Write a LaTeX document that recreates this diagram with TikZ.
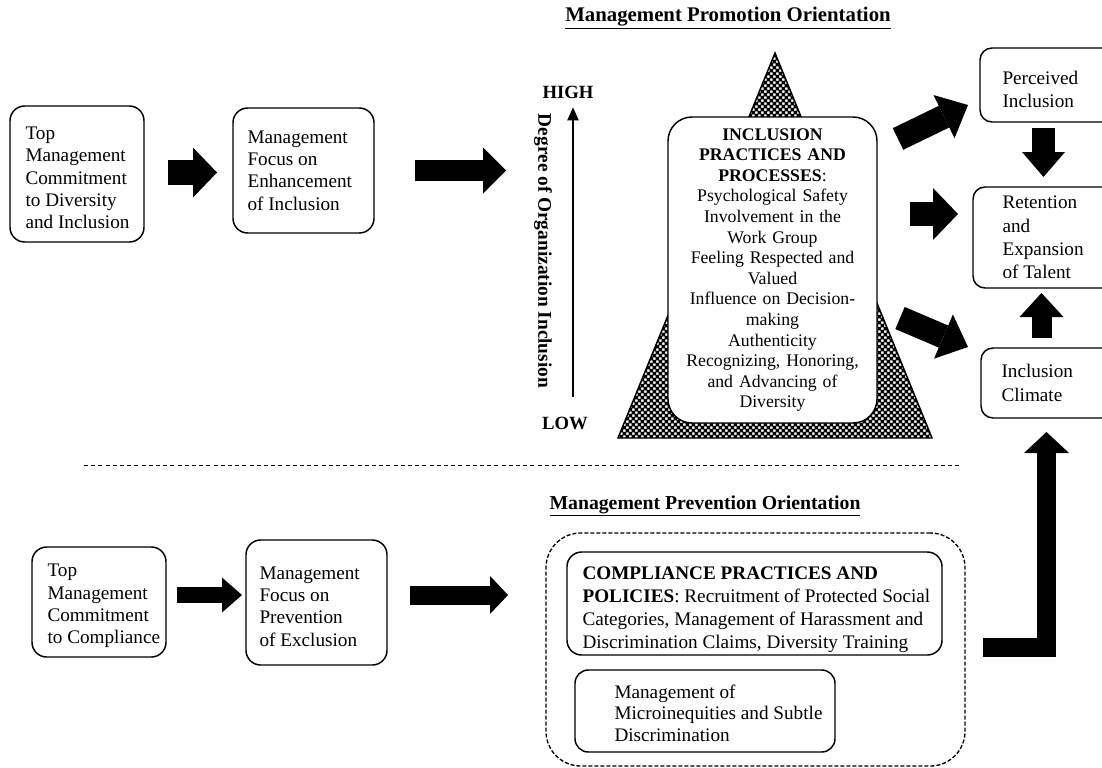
\documentclass[tikz,border=0pt]{standalone}
\usepackage{fontspec}
\setmainfont{Liberation Serif}
\usetikzlibrary{arrows.meta,patterns}
\pgfdeclarepatternformonly{tridots}{\pgfqpoint{0pt}{0pt}}{\pgfqpoint{4.8pt}{4.8pt}}{\pgfqpoint{4.8pt}{4.8pt}}{%
  \pgfseteorule
  \pgfpathrectangle{\pgfqpoint{0pt}{0pt}}{\pgfqpoint{4.8pt}{4.8pt}}%
  \pgfpathrectangle{\pgfqpoint{0.2pt}{0.2pt}}{\pgfqpoint{2pt}{2pt}}%
  \pgfpathrectangle{\pgfqpoint{2.6pt}{2.6pt}}{\pgfqpoint{2pt}{2pt}}%
  \pgfusepath{fill}}
\tikzset{
  box/.style={draw, line width=1.1pt, rounded corners=11pt, inner sep=0pt},
  rbox/.style={box, rounded corners=9pt},
  txt/.style={align=left, anchor=west, inner sep=0pt, font=\fontsize{14.4}{16.8}\selectfont},
  rtxt/.style={txt, font=\fontsize{14.4}{17.4}\selectfont},
  barrow/.style n args={3}{line width=#1, draw=black,
    -{Triangle[length=#2, width=#3, line width=0pt]}},
  ttl/.style={font=\fontsize{15}{18}\selectfont\bfseries, inner sep=0pt},
  axlbl/.style={font=\fontsize{14}{16}\selectfont\bfseries, inner sep=0pt},
}
\begin{document}
\begin{tikzpicture}[x=0.75pt, y=-0.75pt]
\useasboundingbox (0,0) rectangle (1102,767);

% ---------- titles ----------
\node[ttl, font=\fontsize{15.6}{18}\selectfont\bfseries] (promt) at (728,18) {\underline{Management Promotion Orientation}};
\node[ttl, font=\fontsize{14.8}{18}\selectfont\bfseries] (prevt) at (705,506) {\underline{Management Prevention Orientation}};

% ---------- top row ----------
\node[box, minimum width=100.5pt, minimum height=102pt] (topA) at (77,174) {};
\node[txt] (topAt) at ([xshift=12pt, yshift=-3pt]topA.west) {Top\\Management\\Commitment\\to Diversity\\and Inclusion};
\node[box, minimum width=105.75pt, minimum height=93.75pt] (focB) at (303.5,170.5) {};
\node[txt] (focBt) at ([xshift=11.25pt]focB.west) {Management\\Focus on\\Enhancement\\of Inclusion};

% axis
\coordinate (axlow) at (573,397);
\coordinate (axhigh) at (573,107);
\draw[line width=2.2pt, -{Triangle[length=10pt, width=8pt]}] (axlow) -- (axhigh);
\node[axlbl] (high) at (568,92) {HIGH};
\node[axlbl] (low) at (565,423) {LOW};
\node[axlbl, font=\fontsize{14.5}{16}\selectfont\bfseries, rotate=-90] (deg) at (543,251)
  {Degree of Organization Inclusion};

% triangle
\coordinate (apex) at (775,53);
\coordinate (tright) at (932,438);
\coordinate (tleft) at (618,438);
\draw[line width=1.1pt, pattern=tridots] (apex) -- (tright) -- (tleft) -- cycle;

\node[box, fill=white, rounded corners=18pt, align=center, minimum width=156.75pt,
  minimum height=229.5pt, text width=142.5pt, inner xsep=7.125pt,
  font=\fontsize{13.3}{15.45}\selectfont] (incl) at (772.5,270)
  {\textbf{INCLUSION}\\\textbf{PRACTICES AND}\\\textbf{PROCESSES}:\\Psychological Safety\\Involvement in the\\Work Group\\Feeling Respected and\\Valued\\Influence on Decision-\\making\\Authenticity\\Recognizing, Honoring,\\and Advancing of\\Diversity};

% right column
\node[rbox, minimum width=105pt, minimum height=55.5pt] (perc) at (1050,85) {};
\node[rtxt] (perct) at ([xshift=17.25pt, yshift=-3.5pt]perc.west) {Perceived\\Inclusion};
\node[rbox, minimum width=121.5pt, minimum height=75.75pt] (ret) at (1054,237.5) {};
\node[rtxt] (rett) at ([xshift=22.5pt]ret.west) {Retention\\and\\Expansion\\of Talent};
\node[rbox, minimum width=104.25pt, minimum height=52.5pt] (clim) at (1050.5,383) {};
\node[rtxt] (climt) at ([xshift=15.75pt]clim.west) {Inclusion\\Climate};

% ---------- separator ----------
\coordinate (sepL) at (84,465);
\coordinate (sepR) at (960,465);
\draw[line width=0.7pt, dash pattern=on 3pt off 2.4pt] (sepL) -- (sepR);

% ---------- bottom row ----------
\node[box, minimum width=100.5pt, minimum height=82.5pt] (topC) at (99,602) {};
\node[txt] (topCt) at ([xshift=12pt, yshift=-3pt]topC.west) {Top\\Management\\Commitment\\to Compliance};
\node[box, minimum width=105.75pt, minimum height=93.75pt] (focD) at (316.5,602.5) {};
\node[txt] (focDt) at ([xshift=10.5pt, yshift=-3pt]focD.west) {Management\\Focus on\\Prevention\\of Exclusion};

\node[draw, line width=1pt, dash pattern=on 3pt off 1.5pt, rounded corners=26pt,
  minimum width=314.25pt, minimum height=174.75pt, inner sep=0pt] (prevbox) at (755.5,649.5) {};

\node[box, minimum width=281.25pt, minimum height=77.25pt] (comp) at (754.5,603.5) {};
\node[txt, font=\fontsize{14.4}{17.25}\selectfont] (compt) at ([xshift=12pt, yshift=-4.5pt]comp.west)
  {\textbf{COMPLIANCE PRACTICES AND}\\\textbf{POLICIES}: Recruitment of Protected Social\\Categories, Management of Harassment and\\Discrimination Claims, Diversity Training};
\node[box, rounded corners=10pt, minimum width=195pt, minimum height=61.5pt] (micro) at (705,711) {};
\node[txt, font=\fontsize{14.4}{16.2}\selectfont] (microt) at ([xshift=30pt, yshift=-1.5pt]micro.west)
  {Management of\\Microinequities and Subtle\\Discrimination};

% ---------- block arrows ----------
\coordinate (a1s) at (168,172.5);  \coordinate (a1e) at (217,172.5);
\coordinate (a2s) at (415,170.5);  \coordinate (a2e) at (506,170.5);
\coordinate (a3s) at (177,595);    \coordinate (a3e) at (242,595);
\coordinate (a4s) at (410,595);    \coordinate (a4e) at (508,595);
\coordinate (a5s) at (898,139);    \coordinate (a5e) at (968,105);
\coordinate (a6s) at (910,214);    \coordinate (a6e) at (958,214);
\coordinate (a7s) at (900,318);    \coordinate (a7e) at (968,347);
\coordinate (a8s) at (1043.5,128); \coordinate (a8e) at (1043.5,177);
\coordinate (a9s) at (1041.5,338); \coordinate (a9e) at (1041.5,293);
\coordinate (aLs) at (983,647.5);  \coordinate (aLe) at (1046.5,432);

\draw[barrow={18.75pt}{18pt}{37.5pt}] (a1s) -- (a1e);
\draw[barrow={15.75pt}{17.25pt}{34.5pt}] (a2s) -- (a2e);
\draw[barrow={12pt}{15pt}{26.25pt}] (a3s) -- (a3e);
\draw[barrow={14.25pt}{13.5pt}{28.5pt}] (a4s) -- (a4e);
\draw[barrow={18pt}{20pt}{36pt}] (a5s) -- (a5e);
\draw[barrow={18pt}{18.75pt}{39pt}] (a6s) -- (a6e);
\draw[barrow={18pt}{20pt}{36pt}] (a7s) -- (a7e);
\draw[barrow={17.25pt}{18.75pt}{32.25pt}] (a8s) -- (a8e);
\draw[barrow={15pt}{18pt}{33pt}] (a9s) -- (a9e);
\draw[barrow={14.25pt}{15.75pt}{33.75pt}, line join=miter] (aLs) -| (aLe);
\end{tikzpicture}
\end{document}
